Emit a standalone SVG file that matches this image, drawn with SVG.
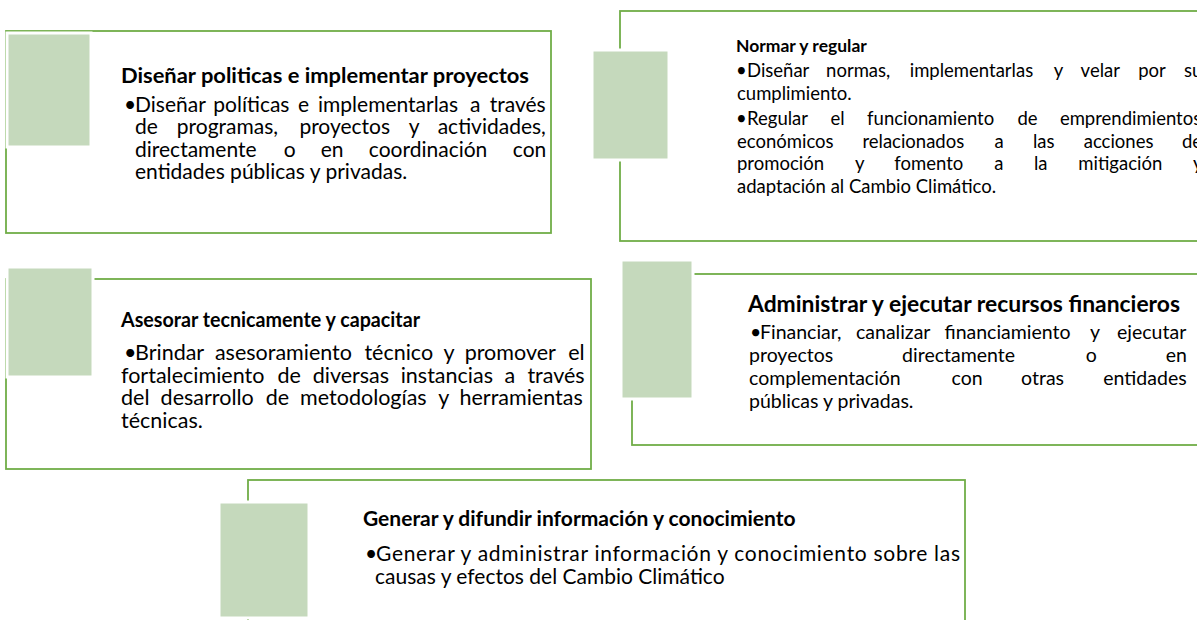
<svg xmlns="http://www.w3.org/2000/svg" width="1197" height="620" viewBox="0 0 1197 620">
<style>
.frame{fill:#fff;stroke:#70AD47;stroke-width:1.8}
.sq{fill:#C5D9BC;stroke:#fff;stroke-width:3}
.t{font-family:Lato,"Liberation Sans",sans-serif;fill:#000}
.h1{font-weight:700;font-size:21px}
.b1{font-size:21px}
.b3{font-size:21.5px}
.h2{font-weight:700;font-size:17.5px}
.b2{font-size:18.5px}
.b4{font-size:19.5px}
</style>
<rect width="1197" height="620" fill="#fff"/>
<g id="connectors"></g>

<g id="node-disenar">
<rect class="frame" x="6" y="31" width="545" height="202"/>
<rect class="sq" x="7" y="33" width="84" height="114"/>
<text class="t h1" x="121" y="83" textLength="408" lengthAdjust="spacingAndGlyphs">Diseñar politicas e implementar proyectos</text>
<text class="t b1" y="111.5"><tspan x="124">•</tspan><tspan x="135">Diseñar</tspan><tspan x="213.3">políticas</tspan><tspan x="297.9">e</tspan><tspan x="318">implementarlas</tspan><tspan x="470.1">a</tspan><tspan x="489.7">través</tspan></text>
<text class="t b1" y="134"><tspan x="135">de</tspan><tspan x="176.8">programas,</tspan><tspan x="299.4">proyectos</tspan><tspan x="408.8">y</tspan><tspan x="437.7">actividades,</tspan></text>
<text class="t b1" y="156.5"><tspan x="135">directamente</tspan><tspan x="283.7">o</tspan><tspan x="320.7">en</tspan><tspan x="368.8">coordinación</tspan><tspan x="512.8">con</tspan></text>
<text class="t b1" x="135" y="179">entidades públicas y privadas.</text>
</g>

<g id="node-normar">
<rect class="frame" x="620" y="11" width="620" height="230"/>
<rect class="sq" x="592" y="50" width="77" height="110"/>
<text class="t h2" x="736" y="52">Normar y regular</text>
<text class="t b2" y="77"><tspan x="736">•</tspan><tspan x="747">Diseñar</tspan><tspan x="826.1">normas,</tspan><tspan x="909.7">implementarlas</tspan><tspan x="1053.7">y</tspan><tspan x="1080.6">velar</tspan><tspan x="1138.2">por</tspan><tspan x="1183.9">su</tspan></text>
<text class="t b2" x="737" y="100">cumplimiento.</text>
<text class="t b2" y="125"><tspan x="736">•</tspan><tspan x="747">Regular</tspan><tspan x="830.5">el</tspan><tspan x="867.1">funcionamiento</tspan><tspan x="1017.4">de</tspan><tspan x="1059.9">emprendimientos</tspan></text>
<text class="t b2" y="147.5"><tspan x="737">económicos</tspan><tspan x="862.4">relacionados</tspan><tspan x="994.4">a</tspan><tspan x="1032.9">las</tspan><tspan x="1083.7">acciones</tspan><tspan x="1181.9">de</tspan></text>
<text class="t b2" y="170"><tspan x="737">promoción</tspan><tspan x="855">y</tspan><tspan x="894.3">fomento</tspan><tspan x="994.2">a</tspan><tspan x="1034">la</tspan><tspan x="1078.3">mitigación</tspan><tspan x="1193.1">y</tspan></text>
<text class="t b2" x="737" y="192.5">adaptación al Cambio Climático.</text>
</g>

<g id="node-asesorar">
<rect class="frame" x="6" y="279" width="585" height="190"/>
<rect class="sq" x="7" y="267" width="86" height="110"/>
<text class="t h1" x="121" y="327" textLength="299" lengthAdjust="spacingAndGlyphs">Asesorar tecnicamente y capacitar</text>
<text class="t b3" y="360"><tspan x="124">•</tspan><tspan x="135">Brindar</tspan><tspan x="214.9">asesoramiento</tspan><tspan x="364.4">técnico</tspan><tspan x="443.4">y</tspan><tspan x="464.7">promover</tspan><tspan x="568.2">el</tspan></text>
<text class="t b3" y="382.5"><tspan x="121">fortalecimiento</tspan><tspan x="277.4">de</tspan><tspan x="312.7">diversas</tspan><tspan x="400.7">instancias</tspan><tspan x="504.6">a</tspan><tspan x="527.4">través</tspan></text>
<text class="t b3" y="405"><tspan x="121">del</tspan><tspan x="160.6">desarrollo</tspan><tspan x="265.8">de</tspan><tspan x="300.1">metodologías</tspan><tspan x="438.3">y</tspan><tspan x="459.5">herramientas</tspan></text>
<text class="t b3" x="121" y="427.5">técnicas.</text>
</g>

<g id="node-administrar">
<rect class="frame" x="632" y="274" width="620" height="171"/>
<rect class="sq" x="621" y="260" width="72" height="139"/>
<text class="t h2" x="748" y="312" style="font-size:22px" textLength="432" lengthAdjust="spacingAndGlyphs">Administrar y ejecutar recursos financieros</text>
<text class="t b4" y="339"><tspan x="750">•</tspan><tspan x="760">Financiar,</tspan><tspan x="856">canalizar</tspan><tspan x="944.5">financiamiento</tspan><tspan x="1090">y</tspan><tspan x="1117">ejecutar</tspan></text>
<text class="t b4" y="362"><tspan x="749">proyectos</tspan><tspan x="902.1">directamente</tspan><tspan x="1085.8">o</tspan><tspan x="1165.7">en</tspan></text>
<text class="t b4" y="385"><tspan x="749">complementación</tspan><tspan x="951.6">con</tspan><tspan x="1021.1">otras</tspan><tspan x="1103.3">entidades</tspan></text>
<text class="t b4" x="749" y="408">públicas y privadas.</text>
</g>

<g id="node-generar">
<rect class="frame" x="248" y="480" width="717" height="200"/>
<rect class="sq" x="219" y="502" width="90" height="116"/>
<text class="t h1" x="363" y="526">Generar y difundir información y conocimiento</text>
<text class="t b1" y="561"><tspan x="365">•</tspan><tspan x="376" textLength="584" lengthAdjust="spacing">Generar y administrar  información y conocimiento sobre las</tspan></text>
<text class="t b1" x="375" y="584">causas y efectos del Cambio Climático</text>
</g>
</svg>
